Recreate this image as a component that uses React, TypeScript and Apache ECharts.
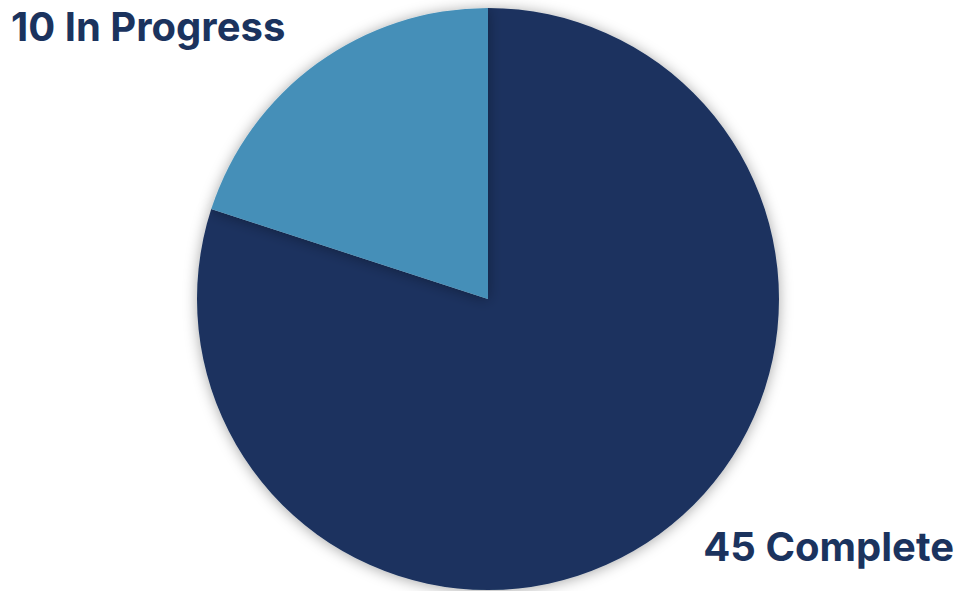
import React, { useEffect, useRef } from "react";
import * as echarts from "echarts";

// Labels as printed on the chart
const categories = ["Complete", "In Progress"];
const labelCounts = [45, 10];
// Slice shares as drawn (angle, percent of circle)
const sliceShares = [80, 20];
const sliceColors = ["#1B335E", "#458FB8"];
const labelColor = "#1B335E";

export default function App() {
  const ref = useRef<HTMLDivElement>(null);
  useEffect(() => {
    if (!ref.current) return;
    const chart = echarts.init(ref.current, undefined, { renderer: "svg" });
    const font = "Inter, 'Open Sans', sans-serif";
    chart.setOption({
      animation: false,
      backgroundColor: "#ffffff",
      series: [
        {
          type: "pie",
          center: [488, 299],
          radius: [0, 291],
          startAngle: 90,
          clockwise: true,
          label: { show: false },
          labelLine: { show: false },
          silent: true,
          itemStyle: {
            borderWidth: 0,
            shadowBlur: 14,
            shadowColor: "rgba(0,0,0,0.35)",
            shadowOffsetX: 0,
            shadowOffsetY: 1,
          },
          data: categories.map((c, i) => ({
            name: c,
            value: sliceShares[i],
            itemStyle: { color: sliceColors[i] },
          })),
        },
      ],
      graphic: [
        {
          type: "text",
          left: 11,
          top: 6,
          style: {
            text: `${labelCounts[1]} ${categories[1]}`,
            font: `bold 40px ${font}`,
            fill: labelColor,
          },
        },
        {
          type: "text",
          right: 5,
          top: 526,
          style: {
            text: `${labelCounts[0]} ${categories[0]}`,
            font: `bold 40px ${font}`,
            fill: labelColor,
          },
        },
      ],
    });
    return () => chart.dispose();
  }, []);
  return (
    <div
      ref={ref}
      style={{ position: "fixed", left: 0, top: 0, width: 959, height: 591 }}
    />
  );
}
